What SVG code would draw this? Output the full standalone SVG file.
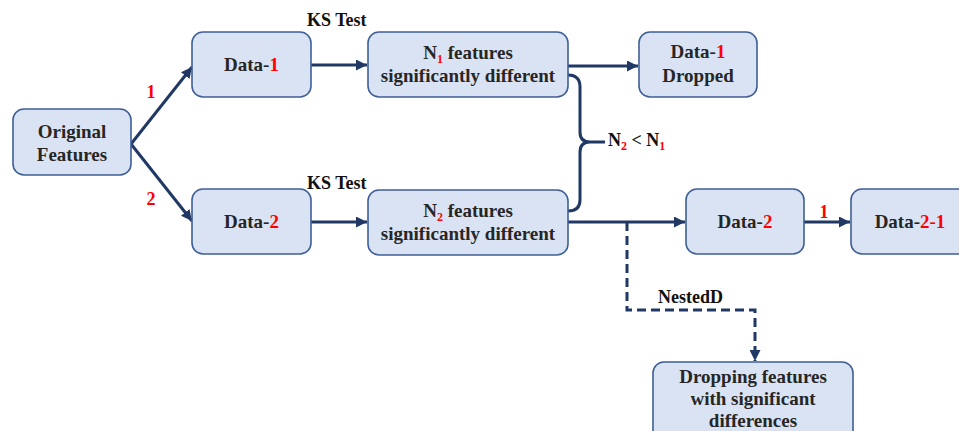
<svg xmlns="http://www.w3.org/2000/svg" width="959" height="431" viewBox="0 0 959 431">
<style>
.box{fill:#dae3f3;stroke:#3f5f97;stroke-width:1.6}
.t{font-family:"Liberation Serif","Times New Roman",serif;font-weight:bold;font-size:19px;fill:#262626;text-anchor:middle}
.lb{font-family:"Liberation Serif","Times New Roman",serif;font-weight:bold;font-size:18px;fill:#111}
.r{fill:#ff0000}
.sub{font-size:12px}
.c{fill:none;stroke:#203864;stroke-width:3}
.d{fill:none;stroke:#203864;stroke-width:3;stroke-dasharray:9,5}
</style>
<defs>
<marker id="ah" viewBox="0 0 10 10" refX="10" refY="5" markerWidth="11" markerHeight="11" markerUnits="userSpaceOnUse" orient="auto">
<path d="M0,0 L10,5 L0,10 z" fill="#203864"/>
</marker>
</defs>
<g id="connectors">
<path class="c" d="M131,144 L192,67" marker-end="url(#ah)"/>
<path class="c" d="M131,144 L192,221" marker-end="url(#ah)"/>
<path class="c" d="M311,65 L367,65" marker-end="url(#ah)"/>
<path class="c" d="M311,222 L367,222" marker-end="url(#ah)"/>
<path class="c" d="M568,66 L638,66" marker-end="url(#ah)"/>
<path class="c" d="M568,75 Q580,75 580,87 L580,132 Q580,142 590,142 L605,142 M590,142 Q580,142 580,152 L580,200 Q580,211 568,211"/>
<path class="c" d="M568,222 L685,222" marker-end="url(#ah)"/>
<path class="c" d="M804,222 L850,222" marker-end="url(#ah)"/>
<path class="d" d="M627,222 L627,310 L755,310 L755,361" marker-end="url(#ah)"/>
<text class="lb r" x="151" y="98" text-anchor="middle">1</text>
<text class="lb r" x="151" y="205" text-anchor="middle">2</text>
<text class="lb r" x="824" y="218" text-anchor="middle">1</text>
<text class="lb" x="307" y="26">KS Test</text>
<text class="lb" x="307" y="189">KS Test</text>
<text class="lb" x="658" y="303">NestedD</text>
<text class="lb" x="608" y="146">N<tspan class="r sub" dy="4">2</tspan><tspan dy="-4"> &lt; N</tspan><tspan class="r sub" dy="4">1</tspan></text>
</g>
<g id="original">
<rect class="box" x="13" y="109" width="118" height="66" rx="11"/>
<text class="t" x="72" y="138">Original</text>
<text class="t" x="72" y="161">Features</text>
</g>
<g id="data1">
<rect class="box" x="192" y="32" width="119" height="65" rx="11"/>
<text class="t" x="251.5" y="71">Data-<tspan class="r">1</tspan></text>
</g>
<g id="data2">
<rect class="box" x="192" y="189" width="119" height="65" rx="11"/>
<text class="t" x="251.5" y="228">Data-<tspan class="r">2</tspan></text>
</g>
<g id="n1">
<rect class="box" x="368" y="32" width="200" height="65" rx="11"/>
<text class="t" x="468" y="59">N<tspan class="r sub" dy="4">1</tspan><tspan dy="-4"> features</tspan></text>
<text class="t" x="468" y="82">significantly different</text>
</g>
<g id="n2">
<rect class="box" x="368" y="190" width="200" height="65" rx="11"/>
<text class="t" x="468" y="217">N<tspan class="r sub" dy="4">2</tspan><tspan dy="-4"> features</tspan></text>
<text class="t" x="468" y="240">significantly different</text>
</g>
<g id="dropped">
<rect class="box" x="639" y="32" width="118" height="65" rx="11"/>
<text class="t" x="698" y="58">Data-<tspan class="r">1</tspan></text>
<text class="t" x="698" y="82">Dropped</text>
</g>
<g id="data2b">
<rect class="box" x="686" y="189" width="118" height="65" rx="11"/>
<text class="t" x="745" y="228">Data-<tspan class="r">2</tspan></text>
</g>
<g id="data21">
<rect class="box" x="851" y="189" width="118" height="65" rx="11"/>
<text class="t" x="910" y="228">Data-<tspan class="r">2-1</tspan></text>
</g>
<g id="dropping">
<rect class="box" x="653" y="362" width="200" height="80" rx="11"/>
<text class="t" x="753" y="383">Dropping features</text>
<text class="t" x="753" y="405">with significant</text>
<text class="t" x="753" y="427">differences</text>
</g>
</svg>
